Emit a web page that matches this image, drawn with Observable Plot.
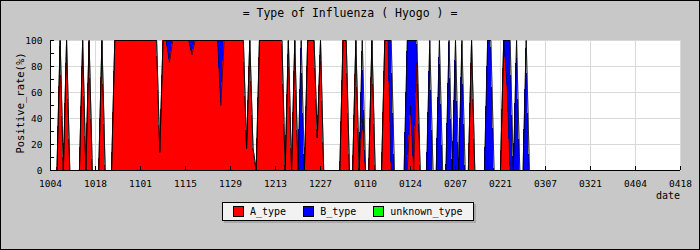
<!DOCTYPE html>
<html><head><meta charset="utf-8">
<script src="https://cdn.jsdelivr.net/npm/d3@7"></script>
<script src="https://cdn.jsdelivr.net/npm/@observablehq/plot@0.6"></script>
<style>
body{margin:0;background:#fff}
#wrap{position:relative;width:700px;height:250px;background:#c8c8c8;overflow:hidden;font-family:"DejaVu Sans Mono",monospace;color:#000}
#chart{position:absolute;left:0;top:0}
#border{position:absolute;left:0;top:0;width:698px;height:248px;border:1px solid #000;pointer-events:none}
#title{position:absolute;left:0;top:6px;width:700px;text-align:center;font-size:11.5px;white-space:pre}
#ylab{position:absolute;left:20px;top:103px;transform:translate(-50%,-50%) rotate(-90deg);font-size:10.5px;white-space:nowrap}
#xlab{position:absolute;left:656px;top:190px;font-size:10px}
#legend{position:absolute;left:222px;top:202px;width:252px;height:19px;background:#f2f2f2;border:1px solid #000;box-shadow:2px 2px 0 #a8a8a8;display:flex;align-items:center;padding-left:10px;box-sizing:border-box;gap:17px;font-size:10px}
.item{display:flex;align-items:center;gap:6px}
.sw{width:9px;height:9px;border:1px solid #000}
</style></head>
<body>
<div id="wrap">
  <div id="chart"></div>
  <div id="title"></div>
  <div id="ylab"></div>
  <div id="xlab"></div>
  <div id="legend"></div>
  <div id="border"></div>
</div>
<script>
const titleText = "= Type of Influenza ( Hyogo ) =";
const yLabel = "Positive_rate(%)";
const xLabel = "date";
const series = ["A_type", "B_type", "unknown_type"];
const seriesColors = ["#ff0000", "#0000ff", "#00ff00"];
const xTickLabels = ["1004","1018","1101","1115","1129","1213","1227","0110","0124","0207","0221","0307","0321","0404","0418"];
const xTickDays = [0,14,28,42,56,70,84,98,112,126,140,154,168,182,196];
const yTicks = [0,20,40,60,80,100];
const yMinorTicks = [0,10,20,30,40,50,60,70,80,90,100];

// daily positive rate (%) from 1004, day index 0..149
const aType = [
  0,0,0,100,0,100,0,0,0,0,100,0,100,0,
  0,0,100,0,0,0,100,100,100,100,100,100,100,100,
  100,100,100,100,100,100,14,100,100,83,100,100,100,100,
  100,100,89,100,100,100,100,100,100,100,100,50,100,100,
  100,100,100,100,100,17,100,17,0,100,100,100,100,100,
  100,100,100,0,100,0,100,0,0,0,100,100,100,25,
  100,0,0,0,0,0,0,100,100,0,0,100,0,40,
  0,0,100,0,0,0,100,100,0,0,0,0,0,0,
  50,0,83,0,0,0,0,0,0,0,0,0,0,0,
  0,0,0,0,0,100,0,0,0,0,0,0,0,0,
  0,100,67,0,0,0,0,0,0,0
];
const bType = [
  0,0,0,0,0,0,0,0,0,0,0,0,0,0,
  0,0,0,0,0,0,0,0,0,0,0,0,0,0,
  0,0,0,0,0,0,0,0,0,17,0,0,0,0,
  0,0,11,0,0,0,0,0,0,0,0,50,0,0,
  0,0,0,0,0,0,0,0,0,0,0,0,0,0,
  0,0,0,0,0,0,0,0,100,0,0,0,0,0,
  0,0,0,0,0,0,0,0,0,0,0,0,0,60,
  0,0,0,0,0,0,0,0,100,0,0,0,0,100,
  50,100,17,0,0,0,100,0,0,100,0,0,100,0,
  100,0,100,0,0,0,0,0,0,0,100,100,0,0,
  0,0,33,100,0,100,0,0,100,0
];
const unknownType = aType.map(() => 0);

const valuesBySeries = [aType, bType, unknownType];
const rows = [];
series.forEach((s, k) => valuesBySeries[k].forEach((v, d) => rows.push({day: d, value: v, type: s})));

document.getElementById("title").textContent = titleText;
document.getElementById("ylab").textContent = yLabel;
document.getElementById("xlab").textContent = xLabel;
const leg = document.getElementById("legend");
series.forEach((s, k) => {
  const it = document.createElement("div"); it.className = "item";
  const sw = document.createElement("div"); sw.className = "sw"; sw.style.background = seriesColors[k];
  const t = document.createElement("span"); t.textContent = s;
  it.appendChild(sw); it.appendChild(t); leg.appendChild(it);
});

const chart = Plot.plot({
  width: 700, height: 250,
  marginLeft: 50, marginRight: 20, marginTop: 40, marginBottom: 80,
  style: {background: "transparent", fontFamily: "DejaVu Sans Mono", fontSize: "9.5px", color: "#000"},
  x: {domain: [0, 196]},
  y: {domain: [0, 100]},
  color: {domain: series, range: seriesColors},
  marks: [
    Plot.frame({fill: "white", stroke: "none"}),
    Plot.gridY(yTicks.slice(1), {stroke: "#d9d9d9", strokeOpacity: 1}),
    Plot.gridX(xTickDays, {stroke: "#d9d9d9", strokeOpacity: 1}),
    Plot.areaY(rows, Plot.stackY({x: "day", y: "value", z: "type", fill: "type", curve: "linear", shapeRendering: "crispEdges"})),
    Plot.lineY(rows, Plot.stackY2({x: "day", y: "value", z: "type", stroke: "black", strokeWidth: 0.6, curve: "linear"})),
    Plot.tickX(xTickDays, {x: d => d, stroke: "black", insetTop: 126}),
    Plot.tickY(yMinorTicks, {y: d => d, stroke: "black", insetRight: 626}),
    Plot.ruleY([0], {stroke: "black"}),
    Plot.ruleX([0], {stroke: "black"}),
    Plot.axisX({ticks: xTickDays, tickFormat: d => xTickLabels[xTickDays.indexOf(d)], tickSize: 0, tickPadding: 10, label: null}),
    Plot.axisY({ticks: yTicks, tickSize: 0, tickPadding: 8, label: null})
  ]
});
document.getElementById("chart").appendChild(chart);
</script>
</body></html>
